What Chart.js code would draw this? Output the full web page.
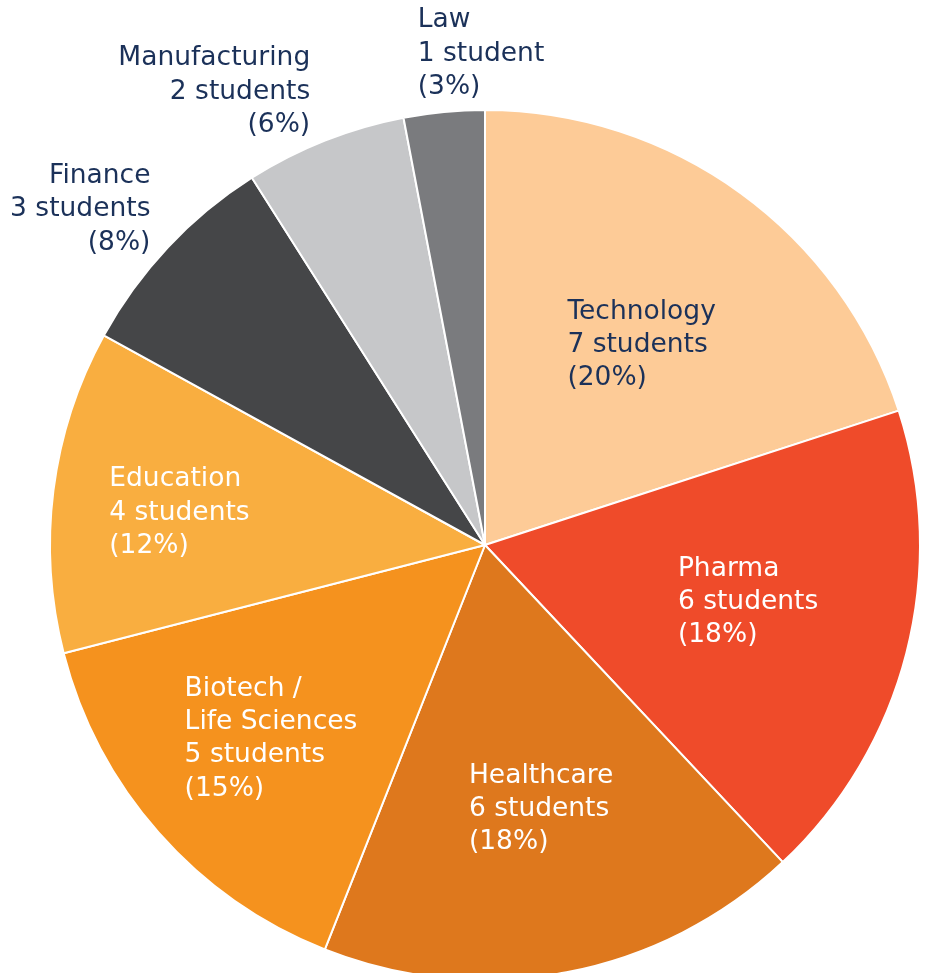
<!DOCTYPE html>
<html>
<head>
<meta charset="utf-8">
<script src="https://cdn.jsdelivr.net/npm/chart.js@4/dist/chart.umd.min.js"></script>
<style>
  html, body { margin: 0; padding: 0; background: #ffffff; }
  #wrap { width: 926px; height: 973px; position: relative; }
</style>
</head>
<body>
<div id="wrap"><canvas id="c" width="926" height="973"></canvas></div>
<script>
// ---- data ----
const categories = ["Technology", "Pharma", "Healthcare", "Biotech / Life Sciences", "Education", "Finance", "Manufacturing", "Law"];
const students = [7, 6, 6, 5, 4, 3, 2, 1];
const percents = [20, 18, 18, 15, 12, 8, 6, 3];
const nameLines = [["Technology"], ["Pharma"], ["Healthcare"], ["Biotech /", "Life Sciences"], ["Education"], ["Finance"], ["Manufacturing"], ["Law"]];

// ---- styles ----
const sliceColors = ["#FDCB97", "#EF4B2A", "#DE781D", "#F5921E", "#F9AE40", "#454648", "#C6C7C9", "#7A7B7E"];
const labelColors = ["#1B3159", "#ffffff", "#ffffff", "#ffffff", "#ffffff", "#1B3159", "#1B3159", "#1B3159"];
// label anchor relative to pie centre (scaled by radius): [dx, dy, align]
const labelAnchors = [
  [82, -201, "left"], [192, 55, "left"], [-16, 261, "left"], [-299, 191, "left"],
  [-374, -34, "left"], [-333, -336, "right"], [-174, -453, "right"], [-67, -491, "left"]
];
const REF_R = 433;

const labelPlugin = {
  id: "sliceLabels",
  afterDatasetsDraw(chart) {
    const ctx = chart.ctx;
    const meta = chart.getDatasetMeta(0);
    ctx.save();
    ctx.font = "26.5px 'DejaVu Sans'";
    ctx.textBaseline = "middle";
    meta.data.forEach((arc, i) => {
      const r = arc.outerRadius;
      const a = labelAnchors[i];
      const x = arc.x + a[0] / REF_R * r;
      const cy = arc.y + a[1] / REF_R * r + 2;
      const n = students[i];
      const lines = nameLines[i].concat([n + (n === 1 ? " student" : " students"), "(" + percents[i] + "%)"]);
      const lh = 33.3;
      ctx.fillStyle = labelColors[i];
      ctx.textAlign = a[2];
      lines.forEach((t, k) => {
        ctx.fillText(t, x, cy + (k - (lines.length - 1) / 2) * lh);
      });
    });
    ctx.restore();
  }
};

new Chart(document.getElementById("c"), {
  type: "pie",
  data: {
    labels: categories,
    datasets: [{
      data: percents,
      backgroundColor: sliceColors,
      borderColor: "#ffffff",
      borderWidth: 2,
      radius: 435
    }]
  },
  options: {
    responsive: false,
    animation: false,
    layout: { padding: { left: 44, right: 0, top: 117, bottom: 0 } },
    plugins: { legend: { display: false }, tooltip: { enabled: false } }
  },
  plugins: [labelPlugin]
});
</script>
</body>
</html>
